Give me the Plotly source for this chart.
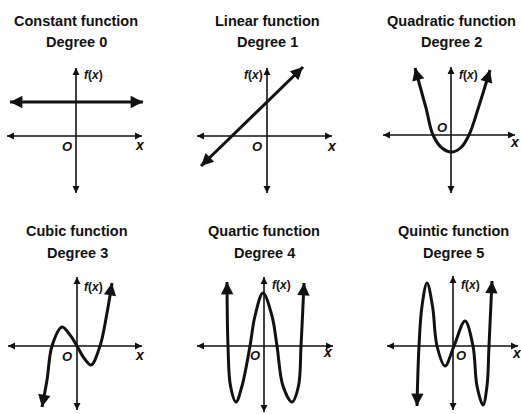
import plotly.graph_objects as go

W, H = 521, 414
UNIT = 10  # pixels per data unit

# ---------------- data (units relative to origin O) -------------
TITLES = ["Constant function", "Linear function", "Quadratic function",
          "Cubic function", "Quartic function", "Quintic function"]
DEGREES = ["Degree 0", "Degree 1", "Degree 2", "Degree 3", "Degree 4", "Degree 5"]

const_x = [-6.6, 6.7]
const_y = [3.4, 3.4]

linear_x = [-6.6, 3.6]
linear_y = [-3.0, 6.9]

quad_x = [-3.6, -2.5, -1.8, -0.9, 0.1, 1.0, 1.8, 2.7, 3.9]
quad_y = [6.7, 2.7, 0.0, -1.3, -1.7, -1.25, 0.0, 2.6, 6.5]

cubic_x = [-3.5, -3.0, -2.5, -1.5, -0.7, 0.0, 0.7, 1.4, 2.3, 3.0, 3.5]
cubic_y = [-6.1, -3.4, 0.0, 1.9, 1.1, 0.0, -1.2, -1.9, 0.0, 3.3, 6.3]

quartic_x = [-3.7, -3.6, -3.35, -2.8, -2.2, -1.4, -0.9, -0.1, 0.8, 1.3, 1.9, 2.8, 3.45, 3.7, 4.0]
quartic_y = [6.4, 0.0, -4.0, -5.6, -4.0, 0.0, 3.0, 5.3, 3.0, 0.0, -4.0, -5.6, -4.0, 0.0, 6.3]

quintic_x = [-3.6, -3.4, -3.1, -2.6, -2.05, -1.6, -0.8, 0.1, 1.2, 2.0, 2.4, 3.0, 3.4, 3.6, 3.9]
quintic_y = [-6.0, 0.0, 4.0, 6.3, 4.0, 0.0, -2.0, 0.0, 2.5, 0.0, -4.0, -5.9, -4.0, 0.0, 6.5]

CURVES_X = [const_x, linear_x, quad_x, cubic_x, quartic_x, quintic_x]
CURVES_Y = [const_y, linear_y, quad_y, cubic_y, quartic_y, quintic_y]

# axis extents per panel (units)
AXIS_XMIN = [-6.9, -7.0, -6.8, -6.9, -6.7, -6.6]
AXIS_XMAX = [6.6, 6.5, 6.4, 6.5, 6.9, 6.5]
AXIS_YMIN = [-5.7, -5.7, -5.8, -6.4, -6.6, -6.4]
AXIS_YMAX = [6.8, 6.8, 6.8, 6.9, 6.9, 7.0]

# ---------------- layout (pixel positions of each panel origin) ----------------------
ORIGINS = [(76, 136), (267, 136), (451, 135), (77, 346), (264, 346), (453, 346)]
TITLE_ROWS = [(21, 42), (21, 42), (21, 42), (231, 253), (231, 253), (231, 253)]
FX_POS = [(1.7, 6.1), (-1.4, 6.1), (1.7, 6.0), (1.6, 5.9), (1.7, 6.1), (1.7, 6.1)]
O_POS = [(-0.9, -1.0), (-1.0, -1.0), (-0.9, 0.8), (-1.0, -1.0), (-0.9, -0.9), (0.8, -0.9)]
X_POS = [(6.4, -0.9), (6.5, -1.0), (6.4, -0.7), (6.3, -0.9), (6.4, -0.6), (6.4, -0.7)]

FONT = "Liberation Sans, Arial, sans-serif"
INK = "#111111"

fig = go.Figure()
annotations = []
layout = {}


def arrow(xa, ya, tip, nxt, width, size, back):
    dx, dy = nxt[0] - tip[0], nxt[1] - tip[1]
    d = (dx * dx + dy * dy) ** 0.5
    tail = (tip[0] + dx / d * back, tip[1] + dy / d * back)
    return dict(x=tip[0], y=tip[1], ax=tail[0], ay=tail[1], xref=xa, yref=ya,
                axref=xa, ayref=ya, showarrow=True, arrowhead=2, arrowsize=size,
                arrowwidth=width, arrowcolor=INK, text="", standoff=0)


for i in range(6):
    sid = "" if i == 0 else str(i + 1)
    xa, ya = "x" + sid, "y" + sid
    ox, oy = ORIGINS[i]
    left, right = max(0, ox - 72), min(W, ox + 69)
    top, bottom = max(0, oy - 75), min(H, oy + 68)
    layout["xaxis" + sid] = dict(domain=[left / W, right / W],
                                 range=[(left - ox) / UNIT, (right - ox) / UNIT],
                                 visible=False, anchor=ya, fixedrange=True)
    layout["yaxis" + sid] = dict(domain=[1 - bottom / H, 1 - top / H],
                                 range=[(oy - bottom) / UNIT, (oy - top) / UNIT],
                                 visible=False, anchor=xa, fixedrange=True)

    # coordinate axes
    fig.add_trace(go.Scatter(x=[AXIS_XMIN[i], AXIS_XMAX[i]], y=[0, 0], mode="lines",
                             line=dict(color=INK, width=1.4), xaxis=xa, yaxis=ya,
                             hoverinfo="skip", showlegend=False))
    fig.add_trace(go.Scatter(x=[0, 0], y=[AXIS_YMIN[i], AXIS_YMAX[i]], mode="lines",
                             line=dict(color=INK, width=1.6), xaxis=xa, yaxis=ya,
                             hoverinfo="skip", showlegend=False))
    for tip, nxt in [((AXIS_XMIN[i], 0), (0, 0)), ((AXIS_XMAX[i], 0), (0, 0)),
                     ((0, AXIS_YMIN[i]), (0, 0)), ((0, AXIS_YMAX[i]), (0, 0))]:
        annotations.append(arrow(xa, ya, tip, nxt, 1.4, 1.0, 0.6))

    # function graph
    cx, cy = CURVES_X[i], CURVES_Y[i]
    fig.add_trace(go.Scatter(x=cx, y=cy, mode="lines",
                             line=dict(color=INK, width=3.0, shape="spline", smoothing=1.0),
                             xaxis=xa, yaxis=ya, hoverinfo="skip", showlegend=False))
    annotations.append(arrow(xa, ya, (cx[0], cy[0]), (cx[1], cy[1]), 2.6, 0.95, 0.9))
    annotations.append(arrow(xa, ya, (cx[-1], cy[-1]), (cx[-2], cy[-2]), 2.6, 0.95, 0.9))

    # labels
    annotations.append(dict(x=FX_POS[i][0], y=FX_POS[i][1], xref=xa, yref=ya,
                            text="<b><i>f</i>(<i>x</i>)</b>", showarrow=False,
                            font=dict(family=FONT, size=12, color=INK)))
    annotations.append(dict(x=O_POS[i][0], y=O_POS[i][1], xref=xa, yref=ya,
                            text="<b><i>O</i></b>", showarrow=False,
                            font=dict(family=FONT, size=13, color=INK)))
    annotations.append(dict(x=X_POS[i][0], y=X_POS[i][1], xref=xa, yref=ya,
                            text="<b><i>x</i></b>", showarrow=False,
                            font=dict(family=FONT, size=14, color=INK)))

    # titles
    for txt, py in zip([TITLES[i], DEGREES[i]], TITLE_ROWS[i]):
        annotations.append(dict(x=ox / W, y=1 - py / H, xref="paper", yref="paper",
                                text="<b>" + txt + "</b>", showarrow=False,
                                xanchor="center", yanchor="middle",
                                font=dict(family=FONT, size=14.5, color=INK)))

fig.update_layout(**layout)
fig.update_layout(width=W, height=H, autosize=False,
                  margin=dict(l=0, r=0, t=0, b=0, pad=0),
                  paper_bgcolor="white", plot_bgcolor="white",
                  annotations=annotations, showlegend=False)

fig.write_html("out.html", config={"displayModeBar": False},
               post_script="document.body.style.margin='0';")
